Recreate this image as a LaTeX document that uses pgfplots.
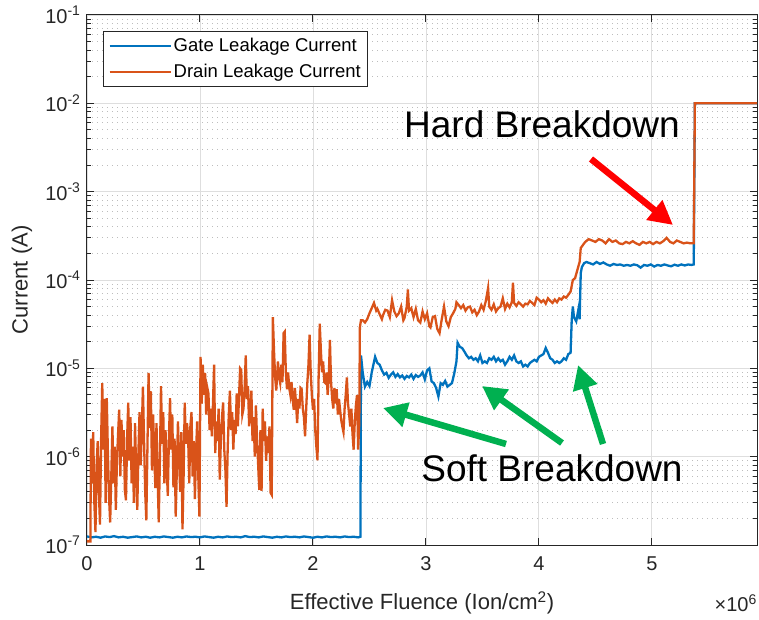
\documentclass[border=0pt]{standalone}
\usepackage{fontspec}
\setmainfont{Liberation Sans}
\usepackage{pgfplots}
\usepackage{pgfplotstable}
\pgfplotsset{compat=1.18}
\usetikzlibrary{arrows.meta}

\definecolor{gateblue}{rgb}{0,0.447,0.741}
\definecolor{drainorange}{rgb}{0.85,0.325,0.098}
\definecolor{arrowgreen}{RGB}{0,176,80}
\definecolor{axisgray}{rgb}{0.15,0.15,0.15}

% fluence in units of 1e6 ion/cm^2, current in A
\pgfplotstableread{
x y
0.00 1.25e-7
0.04 1.22e-7
0.08 1.24e-7
0.12 1.21e-7
0.16 1.25e-7
0.20 1.23e-7
0.24 1.26e-7
0.28 1.22e-7
0.32 1.24e-7
0.36 1.21e-7
0.40 1.23e-7
0.44 1.25e-7
0.48 1.22e-7
0.52 1.24e-7
0.56 1.21e-7
0.60 1.24e-7
0.64 1.22e-7
0.68 1.25e-7
0.72 1.23e-7
0.76 1.21e-7
0.80 1.24e-7
0.84 1.22e-7
0.88 1.25e-7
0.92 1.23e-7
0.96 1.24e-7
1.00 1.22e-7
1.04 1.25e-7
1.08 1.23e-7
1.12 1.21e-7
1.16 1.24e-7
1.20 1.22e-7
1.24 1.25e-7
1.28 1.23e-7
1.32 1.24e-7
1.36 1.22e-7
1.40 1.26e-7
1.44 1.23e-7
1.48 1.24e-7
1.52 1.22e-7
1.56 1.25e-7
1.60 1.23e-7
1.64 1.21e-7
1.68 1.24e-7
1.72 1.22e-7
1.76 1.25e-7
1.80 1.23e-7
1.84 1.24e-7
1.88 1.22e-7
1.92 1.25e-7
1.96 1.23e-7
2.00 1.21e-7
2.04 1.24e-7
2.08 1.22e-7
2.12 1.25e-7
2.16 1.23e-7
2.20 1.24e-7
2.24 1.22e-7
2.28 1.25e-7
2.32 1.23e-7
2.36 1.24e-7
2.40 1.22e-7
2.42 1.24e-7
2.425 1.4e-5
2.44 9.0e-6
2.46 6.2e-6
2.48 7.0e-6
2.50 6.3e-6
2.52 9.0e-6
2.55 1.35e-5
2.57 1.15e-5
2.59 1.1e-5
2.61 9.5e-6
2.63 8.5e-6
2.65 8.9e-6
2.67 7.8e-6
2.69 8.5e-6
2.71 9.0e-6
2.73 8.0e-6
2.75 8.6e-6
2.77 7.9e-6
2.79 8.3e-6
2.81 7.6e-6
2.83 8.2e-6
2.85 7.9e-6
2.87 8.5e-6
2.89 7.6e-6
2.91 8.4e-6
2.93 8.0e-6
2.95 8.3e-6
2.97 9.0e-6
2.99 7.5e-6
3.01 9.5e-6
3.03 1.0e-5
3.05 7.1e-6
3.07 6.8e-6
3.09 6.0e-6
3.11 4.8e-6
3.13 6.8e-6
3.15 6.5e-6
3.17 7.2e-6
3.19 6.2e-6
3.21 6.5e-6
3.23 6.8e-6
3.25 8.7e-6
3.27 1.2e-5
3.28 1.95e-5
3.30 1.75e-5
3.32 1.7e-5
3.34 1.55e-5
3.36 1.4e-5
3.38 1.3e-5
3.40 1.35e-5
3.42 1.25e-5
3.44 1.3e-5
3.46 1.2e-5
3.48 1.4e-5
3.50 1.15e-5
3.52 1.2e-5
3.54 1.15e-5
3.56 1.3e-5
3.58 1.25e-5
3.60 1.35e-5
3.62 1.2e-5
3.64 1.3e-5
3.66 1.2e-5
3.68 1.25e-5
3.70 1.1e-5
3.72 1.2e-5
3.74 1.35e-5
3.76 1.25e-5
3.78 1.4e-5
3.80 1.2e-5
3.82 1.15e-5
3.84 1.2e-5
3.86 1.05e-5
3.88 1.1e-5
3.90 1.05e-5
3.92 1.15e-5
3.94 1.2e-5
3.96 1.25e-5
3.98 1.2e-5
4.00 1.35e-5
4.02 1.4e-5
4.04 1.45e-5
4.06 1.7e-5
4.08 1.5e-5
4.10 1.3e-5
4.12 1.25e-5
4.14 1.15e-5
4.16 1.2e-5
4.18 1.15e-5
4.20 1.2e-5
4.22 1.3e-5
4.24 1.25e-5
4.26 1.45e-5
4.28 1.5e-5
4.29 3.5e-5
4.30 5.0e-5
4.31 3.8e-5
4.33 3.4e-5
4.35 4.7e-5
4.36 3.6e-5
4.37 1.2e-4
4.38 1.4e-4
4.40 1.55e-4
4.42 1.6e-4
4.45 1.55e-4
4.48 1.5e-4
4.51 1.6e-4
4.54 1.52e-4
4.57 1.58e-4
4.60 1.5e-4
4.63 1.45e-4
4.66 1.52e-4
4.69 1.48e-4
4.72 1.5e-4
4.75 1.45e-4
4.78 1.48e-4
4.81 1.45e-4
4.84 1.5e-4
4.87 1.47e-4
4.90 1.38e-4
4.93 1.48e-4
4.96 1.45e-4
4.99 1.5e-4
5.02 1.42e-4
5.05 1.48e-4
5.08 1.45e-4
5.11 1.5e-4
5.14 1.46e-4
5.17 1.43e-4
5.20 1.49e-4
5.23 1.45e-4
5.26 1.5e-4
5.29 1.46e-4
5.32 1.5e-4
5.35 1.48e-4
5.37 1.5e-4
5.38 1.0e-2
5.95 1.0e-2
}\gatedata

\pgfplotstableread{
x y
0.000 1.1e-7
0.030 1.1e-7
0.035 1.6e-6
0.045 5.0e-7
0.055 1.9e-6
0.065 3.0e-7
0.075 1.4e-7
0.085 8.0e-7
0.095 1.5e-6
0.105 4.0e-7
0.115 1.7e-7
0.125 1.6e-6
0.135 6.8e-6
0.145 1.2e-6
0.155 4.5e-6
0.165 3.0e-7
0.175 4.6e-6
0.185 1.1e-6
0.195 3.5e-7
0.205 1.8e-7
0.215 6.0e-7
0.225 2.2e-6
0.235 5.0e-7
0.245 1.3e-6
0.255 2.5e-7
0.265 9.0e-7
0.275 1.8e-6
0.285 3.4e-6
0.295 6.0e-7
0.305 2.6e-6
0.315 1.0e-6
0.325 2.0e-6
0.335 4.2e-7
0.345 3.2e-7
0.355 1.6e-6
0.365 4.1e-6
0.375 9.0e-7
0.385 2.8e-6
0.395 5.0e-7
0.405 1.3e-6
0.415 3.0e-7
0.425 2.4e-6
0.435 7.0e-7
0.445 2.5e-7
0.455 1.1e-6
0.465 3.2e-6
0.475 8.0e-7
0.485 2.0e-6
0.495 6.2e-6
0.505 1.5e-6
0.515 4.0e-7
0.525 1.9e-7
0.535 1.3e-6
0.545 8.9e-6
0.555 2.1e-6
0.565 5.5e-6
0.575 7.0e-7
0.585 3.0e-6
0.595 1.1e-6
0.605 4.4e-7
0.615 2.4e-6
0.625 6.0e-7
0.635 1.8e-7
0.645 9.0e-7
0.655 6.3e-6
0.665 1.4e-6
0.675 3.2e-6
0.685 5.0e-7
0.695 2.0e-6
0.705 8.0e-7
0.715 3.6e-7
0.725 1.6e-6
0.735 4.6e-6
0.745 1.2e-6
0.755 3.0e-6
0.765 4.5e-7
0.775 1.6e-6
0.785 2.1e-7
0.795 7.0e-7
0.805 2.5e-6
0.815 9.0e-7
0.825 4.0e-7
0.835 1.9e-6
0.845 1.5e-7
0.855 6.0e-7
0.865 4.1e-6
0.875 1.4e-6
0.885 2.4e-6
0.895 1.7e-6
0.905 5.0e-7
0.915 2.2e-6
0.925 3.2e-6
0.935 6.0e-7
0.945 1.5e-6
0.955 3.3e-7
0.965 1.1e-6
0.975 2.5e-6
0.985 6.0e-7
0.995 2.1e-7
1.005 1.35e-5
1.015 4.0e-6
1.025 1.1e-5
1.035 5.0e-6
1.045 8.9e-6
1.055 3.0e-6
1.065 6.0e-6
1.075 5.2e-6
1.085 2.0e-6
1.095 3.5e-6
1.105 1.7e-6
1.115 4.0e-6
1.125 1.1e-5
1.135 1.1e-6
1.145 2.5e-6
1.155 1.5e-6
1.165 3.5e-6
1.175 5.5e-7
1.185 1.6e-6
1.195 2.8e-6
1.205 4.1e-6
1.215 1.2e-6
1.225 7.0e-7
1.235 2.7e-7
1.245 1.2e-6
1.255 3.0e-6
1.265 5.6e-6
1.275 2.0e-6
1.285 3.2e-6
1.295 1.2e-6
1.305 2.6e-6
1.315 1.8e-6
1.325 5.2e-6
1.335 2.2e-6
1.345 4.5e-6
1.355 1.0e-5
1.365 9.6e-6
1.375 3.0e-6
1.385 3.5e-6
1.395 6.0e-6
1.405 1.4e-5
1.415 4.5e-6
1.425 6.3e-6
1.435 2.2e-6
1.445 3.5e-6
1.455 5.6e-6
1.465 1.5e-6
1.475 2.8e-6
1.485 1.0e-6
1.495 3.8e-6
1.505 1.6e-6
1.515 8.0e-7
1.525 4.2e-7
1.535 2.0e-6
1.545 4.1e-7
1.555 3.5e-6
1.565 1.5e-6
1.575 2.5e-6
1.585 9.0e-7
1.595 1.7e-6
1.605 1.1e-6
1.615 2.2e-6
1.625 3.9e-7
1.635 3.7e-7
1.645 3.8e-5
1.655 1.6e-5
1.665 8.0e-6
1.675 5.6e-6
1.690 1.2e-5
1.700 8.0e-6
1.710 6.8e-6
1.720 1.1e-5
1.730 7.0e-6
1.740 2.5e-5
1.750 2.6e-5
1.760 9.0e-6
1.770 5.8e-6
1.780 9.0e-6
1.790 6.0e-6
1.800 5.0e-6
1.810 7.0e-6
1.820 4.5e-6
1.830 3.4e-6
1.840 6.0e-6
1.850 4.0e-6
1.860 2.4e-6
1.870 4.5e-6
1.880 3.5e-6
1.890 6.0e-6
1.900 5.8e-6
1.910 3.5e-6
1.920 2.8e-6
1.930 1.7e-6
1.940 3.5e-6
1.950 6.8e-6
1.960 1.1e-5
1.970 2.4e-5
1.980 9.0e-6
1.990 5.0e-6
2.000 3.4e-6
2.010 4.5e-6
2.020 2.0e-6
2.030 1.3e-6
2.040 9.1e-7
2.050 8.0e-6
2.060 3.2e-5
2.070 1.6e-5
2.080 9.0e-6
2.090 1.2e-5
2.100 7.0e-6
2.110 6.8e-6
2.120 9.0e-6
2.130 5.0e-6
2.140 8.0e-6
2.150 2.1e-5
2.160 7.0e-6
2.170 4.5e-6
2.180 3.5e-6
2.190 6.0e-6
2.200 4.0e-6
2.210 5.8e-6
2.220 3.0e-6
2.230 4.5e-6
2.240 3.4e-6
2.250 2.6e-6
2.260 2.2e-6
2.270 1.9e-6
2.280 3.5e-6
2.290 5.0e-6
2.300 7.9e-6
2.310 4.0e-6
2.320 3.0e-6
2.330 2.2e-6
2.340 3.5e-6
2.350 1.8e-6
2.360 1.2e-6
2.370 2.5e-6
2.380 3.8e-6
2.390 5.0e-6
2.400 1.2e-6
2.410 2.5e-6
2.415 2.9e-5
2.425 3.5e-5
2.440 3.5e-5
2.460 3.3e-5
2.480 3.6e-5
2.500 4.2e-5
2.520 4.8e-5
2.540 5.5e-5
2.560 4.5e-5
2.570 4.7e-5
2.590 4.1e-5
2.610 3.6e-5
2.620 4.0e-5
2.640 4.6e-5
2.660 4.5e-5
2.680 3.8e-5
2.700 5.9e-5
2.720 4.4e-5
2.740 3.9e-5
2.760 4.2e-5
2.780 5.0e-5
2.800 3.5e-5
2.810 3.7e-5
2.830 5.0e-5
2.840 7.8e-5
2.850 4.5e-5
2.870 4.8e-5
2.890 3.8e-5
2.910 4.7e-5
2.930 3.5e-5
2.950 3.3e-5
2.970 4.4e-5
2.990 3.6e-5
3.010 4.2e-5
3.030 3.0e-5
3.040 2.9e-5
3.060 3.8e-5
3.080 3.9e-5
3.100 2.8e-5
3.120 2.5e-5
3.140 3.6e-5
3.160 5.0e-5
3.180 3.4e-5
3.200 3.0e-5
3.220 3.8e-5
3.240 4.2e-5
3.260 4.7e-5
3.270 5.6e-5
3.290 5.2e-5
3.310 4.8e-5
3.330 5.2e-5
3.350 4.5e-5
3.370 4.9e-5
3.390 5.0e-5
3.410 4.3e-5
3.430 4.6e-5
3.450 4.0e-5
3.470 4.4e-5
3.490 5.2e-5
3.510 4.6e-5
3.530 5.8e-5
3.550 8.1e-5
3.560 5.0e-5
3.580 4.6e-5
3.600 5.3e-5
3.620 4.4e-5
3.640 4.8e-5
3.660 5.0e-5
3.680 6.2e-5
3.700 4.7e-5
3.720 5.4e-5
3.740 4.9e-5
3.760 5.6e-5
3.770 9.3e-5
3.780 5.5e-5
3.800 5.1e-5
3.820 5.6e-5
3.840 5.3e-5
3.860 5.0e-5
3.880 5.4e-5
3.900 5.3e-5
3.920 5.8e-5
3.940 5.5e-5
3.960 5.2e-5
3.980 6.3e-5
4.000 6.0e-5
4.020 5.6e-5
4.040 5.9e-5
4.060 5.4e-5
4.080 6.2e-5
4.100 5.8e-5
4.120 5.5e-5
4.140 6.0e-5
4.160 5.6e-5
4.180 6.2e-5
4.200 6.0e-5
4.220 6.5e-5
4.240 6.3e-5
4.260 6.8e-5
4.280 7.4e-5
4.300 1.0e-4
4.320 1.05e-4
4.340 1.3e-4
4.360 1.6e-4
4.370 2.3e-4
4.390 2.5e-4
4.410 2.7e-4
4.440 2.9e-4
4.470 2.8e-4
4.500 2.7e-4
4.530 2.9e-4
4.560 2.8e-4
4.590 2.6e-4
4.620 2.9e-4
4.650 2.7e-4
4.680 2.8e-4
4.710 2.6e-4
4.740 2.55e-4
4.770 2.7e-4
4.800 2.6e-4
4.830 2.75e-4
4.860 2.6e-4
4.890 2.5e-4
4.920 2.7e-4
4.950 2.6e-4
4.980 2.7e-4
5.010 2.55e-4
5.040 2.7e-4
5.070 2.6e-4
5.100 2.75e-4
5.130 3.0e-4
5.160 2.7e-4
5.190 2.6e-4
5.220 2.8e-4
5.250 2.7e-4
5.280 2.6e-4
5.310 2.65e-4
5.340 2.6e-4
5.370 2.6e-4
5.380 1.0e-2
5.950 1.0e-2
}\draindata

\newcommand{\dec}[1]{10\textsuperscript{#1}}

\begin{document}
\begin{tikzpicture}
\path[use as bounding box] (-87pt,-75pt) rectangle (672pt,545pt);
\begin{axis}[
  scale only axis,
  width=670pt, height=530pt,
  at={(0,0)}, anchor=south west,
  ymode=log,
  xmin=0, xmax=5.93,
  ymin=1e-7, ymax=1e-1,
  xtick={0,1,2,3,4,5},
  xticklabels={0,1,2,3,4,5},
  ytick={1e-7,1e-6,1e-5,1e-4,1e-3,1e-2,1e-1},
  yticklabels={\dec{-7},\dec{-6},\dec{-5},\dec{-4},\dec{-3},\dec{-2},\dec{-1}},
  tick pos=both,
  tick align=inside,
  major tick length=7pt,
  minor tick length=4pt,
  axis line style={color=axisgray, line width=1pt},
  every tick/.style={color=axisgray, line width=1pt},
  xmajorgrids, ymajorgrids, yminorgrids,
  major grid style={color=black!13, line width=0.9pt},
  minor grid style={color=black!26, line width=0.9pt, dash pattern=on 1pt off 4pt},
  tick label style={font=\fontsize{20}{24}\selectfont, color=axisgray},
  xticklabel style={yshift=-8pt},
  yticklabel style={xshift=-3pt},
  xlabel={Effective Fluence (Ion/cm\textsuperscript{2})},
  ylabel={Current (A)},
  every axis x label/.style={at={(axis description cs:0.5,-0.1094)}, anchor=center,
    font=\fontsize{22}{26}\selectfont, text=axisgray},
  every axis y label/.style={at={(axis description cs:-0.097,0.5)}, anchor=center, rotate=90,
    font=\fontsize{22}{26}\selectfont, text=axisgray},
  legend style={at={(axis description cs:0.0239,0.9698)}, anchor=north west,
    draw=axisgray, line width=0.8pt, fill=white,
    font=\fontsize{18.5}{22}\selectfont, inner xsep=5pt, inner ysep=5pt,
    row sep=7pt},
  legend cell align=left,
  legend image code/.code={\draw[#1] (0pt,0pt) -- (61pt,0pt);},
]
\addplot[color=gateblue, line width=2.3pt] table[x=x,y=y] {\gatedata};
\addlegendentry{Gate Leakage Current}
\addplot[color=drainorange, line width=2.3pt] table[x=x,y=y] {\draindata};
\addlegendentry{Drain Leakage Current}
\end{axis}

% multiplier of the fluence axis
\node[anchor=east, font=\fontsize{20}{24}\selectfont, text=axisgray, inner sep=0pt]
  at (670pt,-58pt) {\texttimes\dec{6}};

% annotations
\node[font=\fontsize{37}{44}\selectfont] at (455pt,421pt) {Hard Breakdown};
\node[font=\fontsize{37}{44}\selectfont] at (465pt,77pt) {Soft Breakdown};

\draw[red, line width=6.5pt, -{Triangle[length=24pt,width=24pt]}]
  (504pt,386pt) -- (586pt,320pt);
\draw[arrowgreen, line width=6.5pt, -{Triangle[length=24pt,width=24pt]}]
  (419pt,101pt) -- (296pt,137pt);
\draw[arrowgreen, line width=6.5pt, -{Triangle[length=24pt,width=24pt]}]
  (475pt,102pt) -- (395pt,159pt);
\draw[arrowgreen, line width=6.5pt, -{Triangle[length=24pt,width=24pt]}]
  (516pt,101pt) -- (491pt,180pt);
\end{tikzpicture}
\end{document}
